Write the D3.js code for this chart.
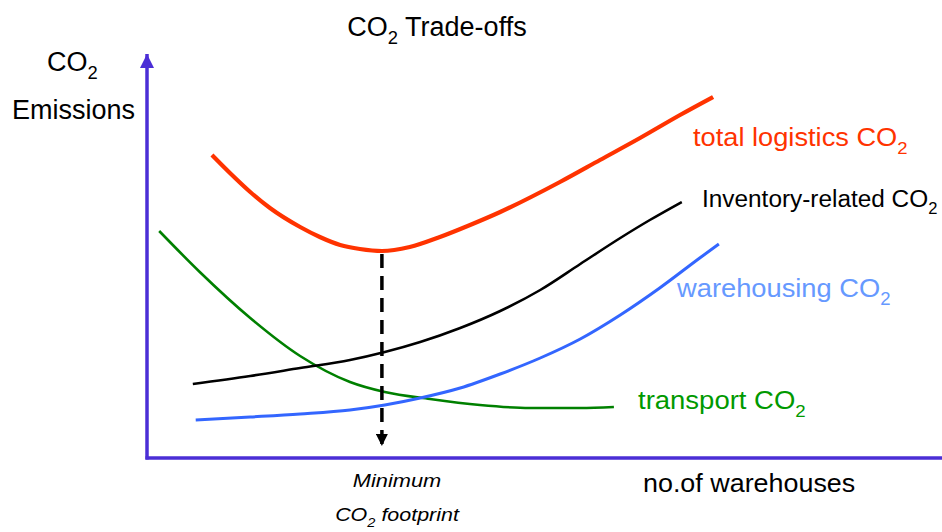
<!DOCTYPE html>
<html>
<head>
<meta charset="utf-8">
<script src="https://cdn.jsdelivr.net/npm/d3@7"></script>
<style>
body { margin: 0; background: #fff; }
text { font-family: "Liberation Sans", Arial, sans-serif; }
</style>
</head>
<body>
<svg width="942" height="532"></svg>
<script>
// number of warehouses (relative) and CO2 emissions (relative)
var totalX = [1.12, 1.43, 1.78, 2.12, 2.64, 2.98, 3.33, 3.67, 4.05, 4.53, 5.05, 5.57, 6.09, 7.12, 7.81, 8.5, 9.19, 9.76]
var totalY = [75.75, 71.25, 66.5, 62.5, 57.75, 55.25, 53.25, 52.25, 51.75, 52.75, 55.25, 58.25, 61.5, 69, 74.5, 80, 85.75, 90.25]

var inventoryX = [0.79, 1.78, 2.64, 3.5, 4.1, 4.71, 5.4, 6.09, 6.78, 7.47, 8.16, 8.67, 9.22]
var inventoryY = [18.5, 20.5, 22.5, 24.5, 26.5, 29, 32.5, 36.75, 42, 48.5, 55, 59.5, 64]

var warehousingX = [0.84, 1.78, 2.64, 3.5, 4.1, 4.71, 5.4, 6.09, 6.78, 7.47, 8.16, 8.84, 9.53, 9.86]
var warehousingY = [9.5, 10.25, 11, 12, 13.25, 15, 17.5, 21, 25, 29.75, 35.75, 42.5, 50, 53.5]

var transportX = [0.21, 0.91, 1.78, 2.64, 3.5, 4.1, 4.88, 5.74, 6.6, 7.47, 8.05]
var transportY = [56.75, 46.5, 35, 25.5, 19, 16.5, 14.75, 13.25, 12.5, 12.5, 12.75]

var minX = 4.05
var minY = 51.75

var labels = [
	{ text: "total logistics CO", color: "#ff3300", x: 693, y: 146, size: 25, sx: 1.09 },
	{ text: "Inventory-related CO", color: "#000000", x: 702, y: 207, size: 23, sx: 1.06 },
	{ text: "warehousing CO", color: "#6699ff", x: 677, y: 297, size: 26, sx: 1.05 },
	{ text: "transport CO", color: "#009900", x: 638, y: 409, size: 25, sx: 1.1 }
]

var svg = d3.select("svg")
var x = d3.scaleLinear().domain([0, 10]).range([147, 727])
var y = d3.scaleLinear().domain([0, 100]).range([458, 58])

var defs = svg.append("defs")
function arrowMarker(id, color, w, h) {
	defs.append("marker").attr("id", id).attr("viewBox", "0 0 10 10")
		.attr("refX", 10).attr("refY", 5).attr("markerUnits", "userSpaceOnUse")
		.attr("markerWidth", w).attr("markerHeight", h).attr("orient", "auto")
		.append("path").attr("d", "M0,0 L10,5 L0,10 Z").attr("fill", color)
}
arrowMarker("axArrow", "#4b2ed6", 16, 14)
arrowMarker("dashArrow", "#000", 14, 12)

// axes
svg.append("line").attr("x1", x(0)).attr("y1", y(0) + 1.5).attr("x2", x(0)).attr("y2", 54)
	.attr("stroke", "#4b2ed6").attr("stroke-width", 3.5).attr("marker-end", "url(#axArrow)")
svg.append("line").attr("x1", x(0) - 1.5).attr("y1", y(0)).attr("x2", 942).attr("y2", y(0))
	.attr("stroke", "#4b2ed6").attr("stroke-width", 3.5)

var line = d3.line().x(function(d) { return x(d[0]) }).y(function(d) { return y(d[1]) })
	.curve(d3.curveMonotoneX)

var series = [
	{ xs: transportX, ys: transportY, color: "#008000", w: 2.6 },
	{ xs: warehousingX, ys: warehousingY, color: "#3366ff", w: 3 },
	{ xs: inventoryX, ys: inventoryY, color: "#000000", w: 2.6 },
	{ xs: totalX, ys: totalY, color: "#ff3300", w: 4.2 }
]
svg.selectAll("path.curve").data(series).enter().append("path").attr("class", "curve")
	.attr("d", function(s) { return line(d3.zip(s.xs, s.ys)) })
	.attr("fill", "none").attr("stroke", function(s) { return s.color })
	.attr("stroke-width", function(s) { return s.w })

// dashed drop line to the minimum
svg.append("line").attr("x1", x(minX)).attr("y1", y(minY) + 3).attr("x2", x(minX)).attr("y2", 446)
	.attr("stroke", "#000").attr("stroke-width", 3.5).attr("stroke-dasharray", "14,8")
	.attr("marker-end", "url(#dashArrow)")

// text placed in a group so it can be stretched sideways a little
function textAt(px, py, size, color, sx, anchor, italic) {
	var t = svg.append("g").attr("transform", "translate(" + px + "," + py + ") scale(" + sx + ",1)")
		.append("text").attr("font-size", size).attr("fill", color)
		.attr("text-anchor", anchor || "start")
	if (italic) t.attr("font-style", "italic")
	return t
}
function withSub(t, before, after, size) {
	t.append("tspan").text(before)
	t.append("tspan").attr("dy", size * 0.3).attr("font-size", size * 0.68).text("2")
	if (after) t.append("tspan").attr("dy", -size * 0.3).text(after)
	return t
}

labels.forEach(function(d) {
	withSub(textAt(d.x, d.y, d.size, d.color, d.sx), d.text, null, d.size)
})

withSub(textAt(437, 36, 27, "#000", 1, "middle"), "CO", " Trade-offs", 27)
withSub(textAt(47, 71, 27, "#000", 1), "CO", null, 27)
textAt(12, 119, 27, "#000", 1).text("Emissions")

textAt(643, 492, 25, "#000", 1.076).text("no.of warehouses")

textAt(397, 487, 18.5, "#000", 1.18, "middle", true).text("Minimum")
withSub(textAt(397, 521, 18.5, "#000", 1.16, "middle", true), "CO", " footprint", 18.5)
</script>
</body>
</html>
